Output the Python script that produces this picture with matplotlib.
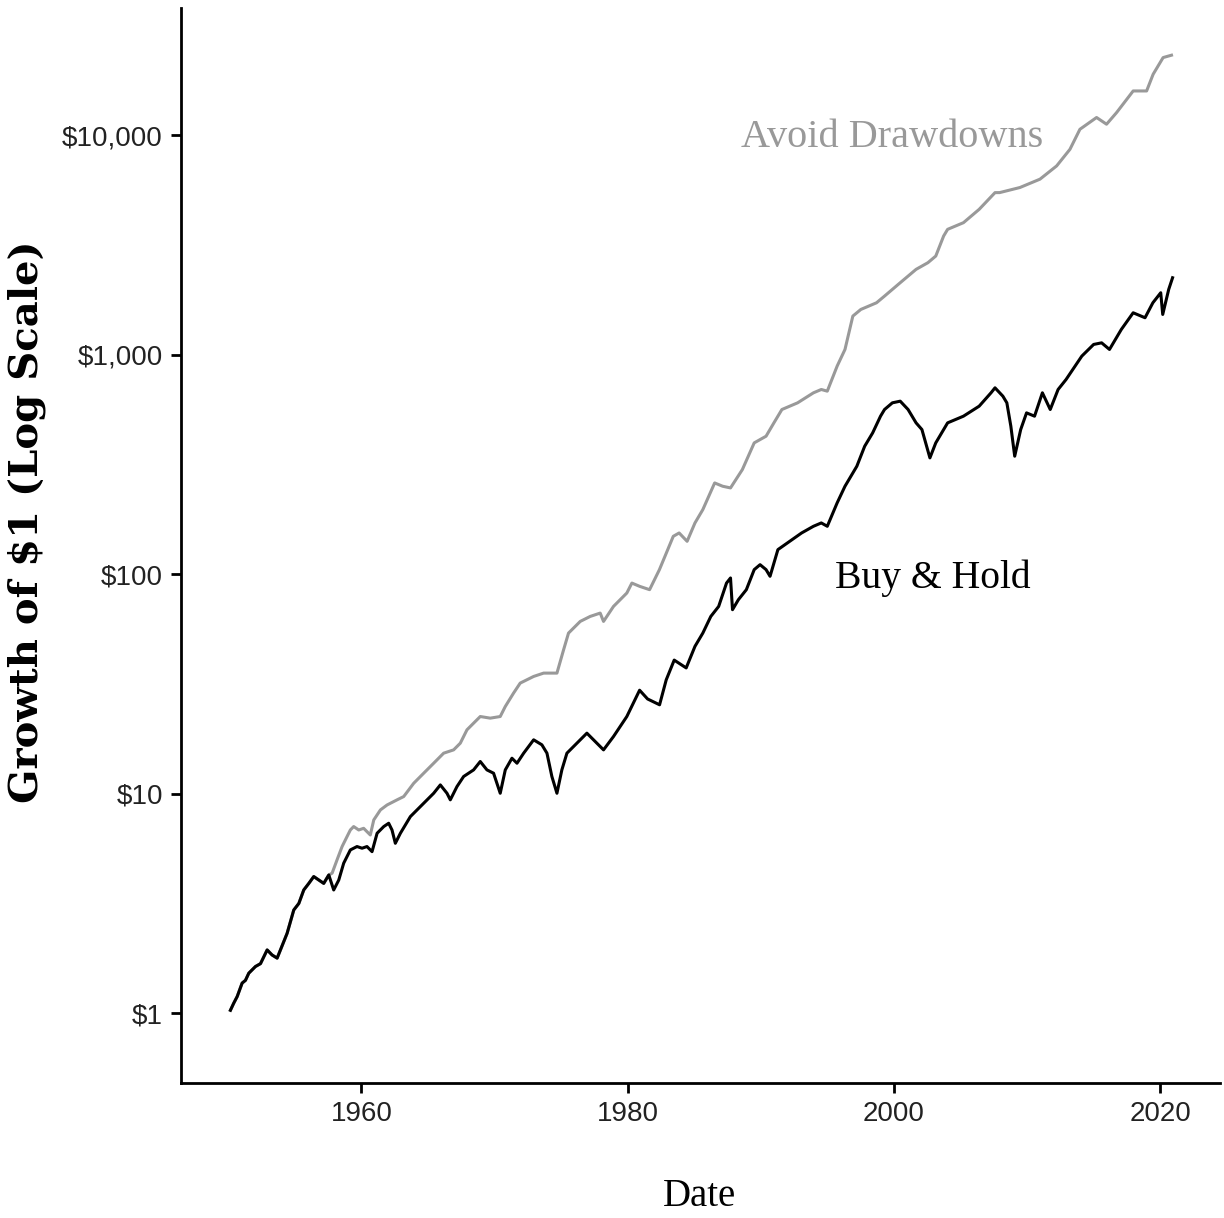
import matplotlib
matplotlib.use("Agg")
import matplotlib.pyplot as plt
import matplotlib.ticker as mticker

# ---------------------------------------------------------------------------
# Data (decimal years, growth of $1, log scale)
# ---------------------------------------------------------------------------

hold_years = [
    1950.16, 1950.41, 1950.67, 1951.04, 1951.29, 1951.54, 1952.04, 1952.42,
    1952.92, 1953.29, 1953.67, 1953.92, 1954.42, 1954.92, 1955.30, 1955.67,
    1956.05, 1956.42, 1956.80, 1957.17, 1957.55, 1957.92, 1958.30, 1958.67,
    1959.17, 1959.67, 1960.05, 1960.42, 1960.80, 1961.18, 1961.68, 1962.05,
    1962.30, 1962.55, 1962.93, 1963.68, 1964.43, 1965.43, 1965.93, 1966.43,
    1966.68, 1967.18, 1967.68, 1968.43, 1968.93, 1969.43, 1969.93, 1970.43,
    1970.81, 1971.31, 1971.69, 1972.19, 1972.94, 1973.56, 1973.94, 1974.31,
    1974.69, 1975.06, 1975.44, 1976.19, 1976.94, 1977.44, 1978.19, 1978.94,
    1979.94, 1980.90, 1981.50, 1982.40, 1982.90, 1983.50, 1984.40, 1985.06,
    1985.65, 1986.25, 1986.84, 1987.43, 1987.73, 1987.88, 1988.32, 1988.92,
    1989.51, 1989.95, 1990.40, 1990.70, 1991.29, 1992.18, 1993.07, 1993.96,
    1994.55, 1995.00, 1995.74, 1996.33, 1997.22, 1997.81, 1998.41, 1999.00,
    1999.30, 1999.89, 2000.48, 2001.07, 2001.67, 2002.11, 2002.71, 2003.15,
    2004.04, 2005.23, 2006.41, 2007.30, 2007.60, 2008.19, 2008.49, 2008.79,
    2009.08, 2009.53, 2009.97, 2010.57, 2011.16, 2011.75, 2012.34, 2012.94,
    2014.12, 2015.01, 2015.61, 2016.20, 2017.09, 2017.98, 2018.87, 2019.46,
    2020.05, 2020.20, 2020.65, 2020.94,
]
hold_values = [
    1.03, 1.11, 1.19, 1.37, 1.41, 1.52, 1.63, 1.68,
    1.94, 1.84, 1.78, 1.94, 2.31, 2.95, 3.16, 3.64,
    3.90, 4.19, 4.04, 3.90, 4.26, 3.64, 4.04, 4.82,
    5.54, 5.74, 5.64, 5.74, 5.44, 6.60, 7.08, 7.33,
    6.83, 5.94, 6.60, 7.86, 8.73, 10.04, 10.96, 10.04,
    9.37, 10.77, 11.97, 12.83, 14.01, 12.83, 12.39, 10.04,
    12.83, 14.50, 13.76, 15.29, 17.59, 16.69, 15.29, 11.97,
    10.04, 12.83, 15.29, 16.98, 18.86, 17.59, 15.83, 18.21,
    22.46, 29.6, 27.0, 25.4, 33.0, 40.6, 37.4, 46.9,
    53.9, 64.2, 71.3, 91.1, 96.1, 68.9, 76.5, 85.0,
    104.9, 110.5, 104.9, 97.8, 129.4, 141.2, 154.1, 165.3,
    171.2, 165.3, 211.2, 251.6, 310.4, 382.9, 440.5, 524.8,
    562.8, 603.7, 614.3, 562.8, 489.3, 456.1, 338.8, 396.6,
    489.3, 524.8, 582.9, 670.6, 706.7, 647.4, 603.7, 472.4,
    344.8, 456.1, 543.3, 524.8, 670.6, 562.8, 694.4, 771.4,
    985.4, 1114, 1133, 1057, 1304, 1553, 1474, 1725,
    1916, 1526, 1985, 2243,
]

# "Avoid Drawdowns" tracks Buy & Hold exactly until late 1957
SHARED_POINTS = 21
avoid_late_years = [
    1957.80, 1958.17, 1958.55, 1958.92, 1959.17, 1959.42, 1959.80, 1960.17,
    1960.67, 1960.93, 1961.43, 1961.93, 1962.68, 1963.18, 1963.93, 1964.68,
    1965.43, 1966.18, 1966.93, 1967.43, 1967.93, 1968.43, 1968.93, 1969.68,
    1970.43, 1970.81, 1971.43, 1971.93, 1972.94, 1973.69, 1974.69, 1975.19,
    1975.56, 1976.44, 1977.19, 1977.94, 1978.19, 1978.94, 1979.94, 1980.32,
    1980.91, 1981.65, 1982.39, 1983.43, 1983.87, 1984.47, 1985.06, 1985.65,
    1986.54, 1987.14, 1987.73, 1988.62, 1989.51, 1990.40, 1990.99, 1991.59,
    1992.77, 1993.96, 1994.55, 1995.00, 1995.74, 1996.33, 1996.92, 1997.52,
    1998.70, 1999.30, 2000.48, 2001.67, 2002.56, 2003.15, 2003.74, 2004.04,
    2005.23, 2006.41, 2007.60, 2007.95, 2009.47, 2010.98, 2012.23, 2013.23,
    2013.98, 2015.23, 2015.98, 2016.73, 2017.98, 2018.99, 2019.48, 2020.23,
    2020.86,
]
avoid_late_values = [
    4.34, 4.99, 5.74, 6.37, 6.83, 7.08, 6.83, 6.95,
    6.48, 7.59, 8.43, 8.88, 9.37, 9.70, 11.15, 12.39,
    13.76, 15.29, 15.83, 16.98, 19.53, 20.95, 22.46, 22.08,
    22.46, 24.95, 28.71, 31.89, 34.20, 35.42, 35.42, 45.24,
    53.90, 60.92, 64.20, 66.49, 60.92, 71.32, 82.06, 91.1,
    88.0, 85.0, 104.9, 148.8, 154.1, 141.2, 171.2, 196.9,
    260.5, 251.6, 247.2, 299.7, 396.6, 425.3, 489.3, 562.8,
    603.7, 670.6, 694.4, 682.3, 887.2, 1057, 1500, 1608,
    1725, 1850, 2129, 2449, 2627, 2816, 3474, 3727,
    3997, 4597, 5478, 5480, 5780, 6310, 7250, 8630,
    10650, 12050, 11230, 12680, 15920, 15920, 18970, 22600,
    23170,
]
avoid_years = hold_years[:SHARED_POINTS] + avoid_late_years
avoid_values = hold_values[:SHARED_POINTS] + avoid_late_values

y_ticks = [1, 10, 100, 1000, 10000]
x_ticks = [1960, 1980, 2000, 2020]

TICK_FONT = ["Liberation Sans Narrow", "Liberation Sans", "DejaVu Sans"]
SERIF = ["Liberation Serif", "DejaVu Serif"]
GREY = "#999999"

# ---------------------------------------------------------------------------
# Figure
# ---------------------------------------------------------------------------

fig = plt.figure(figsize=(12.24, 12.18), dpi=100)
ax = fig.add_axes([0.1479, 0.1108, 0.8488, 0.8826])

ax.plot(avoid_years, avoid_values, color=GREY, linewidth=2.2)
ax.plot(hold_years, hold_values, color="black", linewidth=2.2)

ax.set_yscale("log")
ax.set_xlim(1946.45, 2024.5)
ax.set_ylim(0.48, 38000)

ax.set_yticks(y_ticks)
ax.yaxis.set_major_formatter(mticker.FuncFormatter(lambda v, _: f"${v:,.0f}"))
ax.yaxis.set_minor_locator(mticker.NullLocator())
ax.set_xticks(x_ticks)

for spine in ["top", "right"]:
    ax.spines[spine].set_visible(False)
for spine in ["left", "bottom"]:
    ax.spines[spine].set_linewidth(2.0)

ax.tick_params(axis="both", length=7, width=2.0, labelsize=20, pad=6)
for lab in ax.get_xticklabels() + ax.get_yticklabels():
    lab.set_family(TICK_FONT)
    lab.set_color("#222222")

ax.text(1999.9, 9800, "Avoid Drawdowns", color=GREY, fontsize=29,
        family=SERIF, ha="center", va="center")
ax.text(2002.9, 96, "Buy & Hold", color="black", fontsize=28.5,
        family=SERIF, ha="center", va="center")

fig.text(700 / 1224, 1 - 1196 / 1218, "Date", fontsize=28, family=SERIF,
         ha="center", va="center")
fig.text(27 / 1224, 1 - 522 / 1218, "Growth of $1 (Log Scale)", fontsize=29,
         family=["DejaVu Serif"], fontweight="bold", rotation=90,
         ha="center", va="center")

fig.savefig("out.png", dpi=100)
